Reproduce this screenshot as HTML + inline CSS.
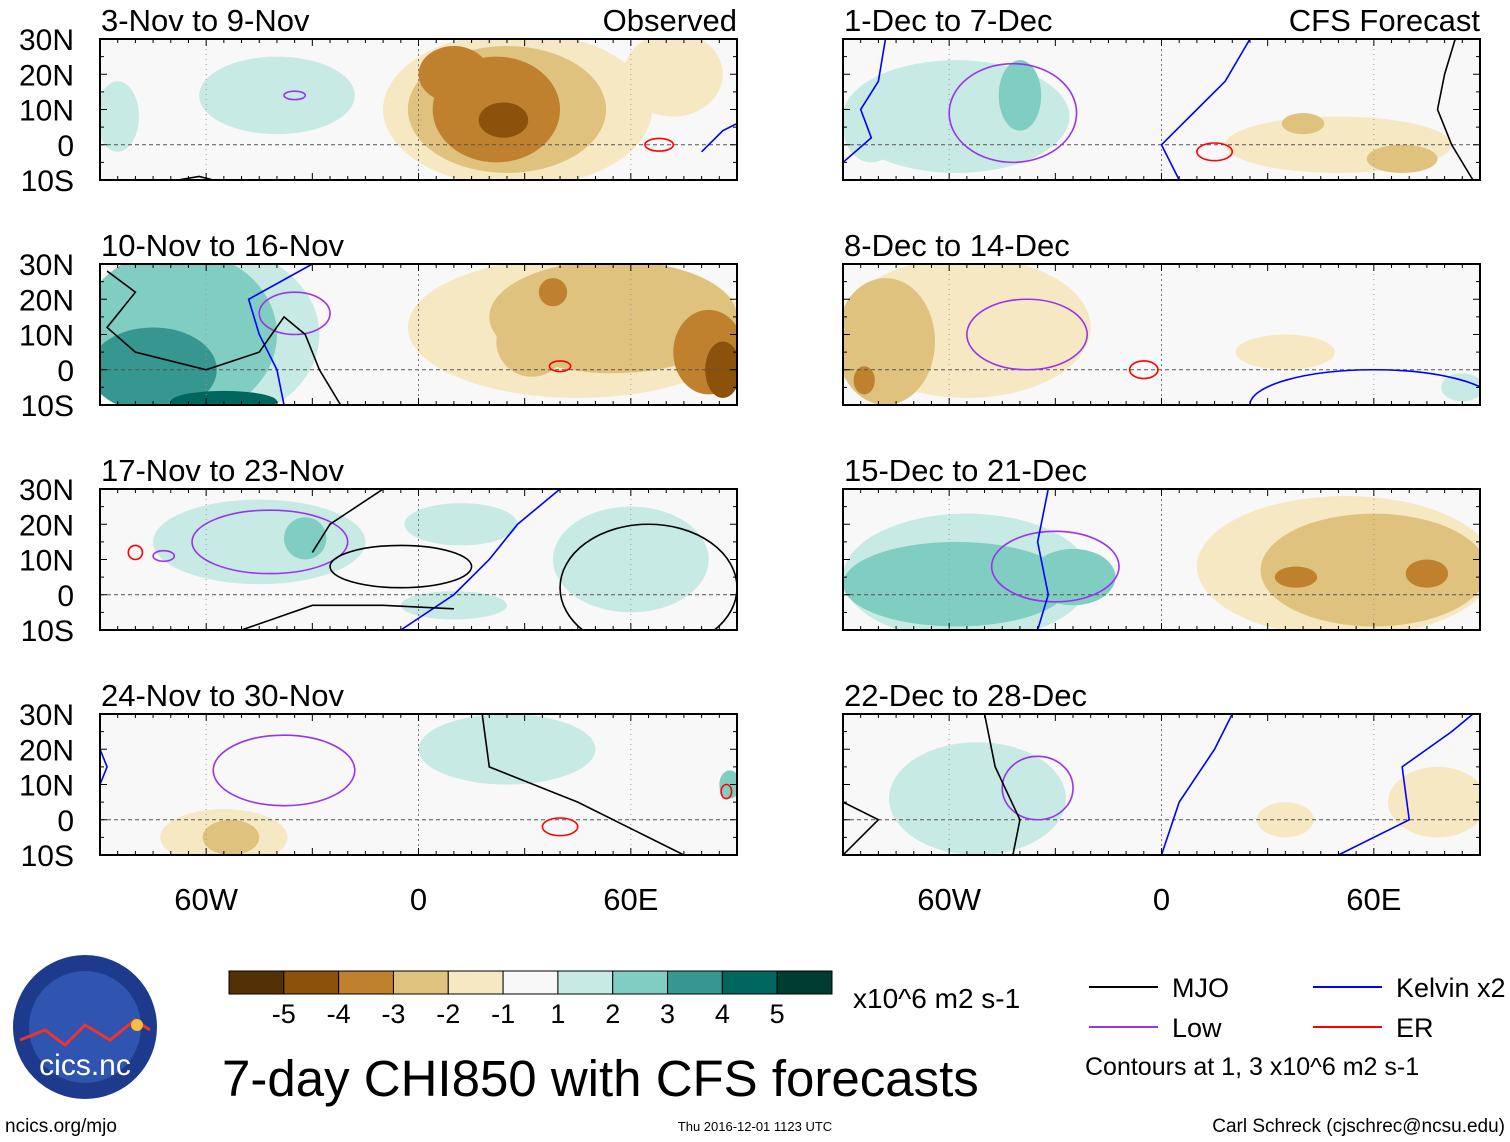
<!DOCTYPE html>
<html><head><meta charset="utf-8"><style>
body{margin:0;background:#fff;width:1510px;height:1142px;overflow:hidden;font-family:"Liberation Sans",Arial,sans-serif}
svg{display:block}
</style></head><body>
<svg id="chart" width="1510" height="1142" viewBox="0 0 1510 1142" xmlns="http://www.w3.org/2000/svg" font-family="Liberation Sans, Arial, sans-serif"></svg>
<script>
// ---- data ----
const panelTitles = ["3-Nov to 9-Nov","1-Dec to 7-Dec","10-Nov to 16-Nov","8-Dec to 14-Dec","17-Nov to 23-Nov","15-Dec to 21-Dec","24-Nov to 30-Nov","22-Dec to 28-Dec"];
const panelTags = ["Observed","CFS Forecast","","","","","",""];
const latTicks = [30,20,10,0,-10];
const latLabels = ["30N","20N","10N","0","10S"];
const lonTicks = [-60,0,60];
const lonLabels = ["60W","0","60E"];
const levels = [-6,-5,-4,-3,-2,-1,1,2,3,4,5];
const levelLabels = ["-5","-4","-3","-2","-1","1","2","3","4","5"];
const palette = ["#543005","#8c510a","#bf812d","#dfc27d","#f6e8c3","#f8f8f8","#c7eae5","#80cdc1","#35978f","#01665e","#003c30"];
// anomaly blobs: [lon, lat, rxDeg, ryDeg, value]
const blobs = [
 [[-40,14,22,11,1.5],[-85,8,6,10,1.5],[28,10,38,22,-1.5],[72,20,14,12,-1.5],[25,10,28,18,-2.5],[22,10,18,15,-3.5],[24,7,7,5,-4.5],[10,20,10,8,-3.5]],
 [[-58,8,32,16,1.5],[-40,14,6,10,2.5],[-82,5,8,10,1.5],[50,0,32,8,-1.5],[68,-4,10,4,-2.5],[40,6,6,3,-2.5]],
 [[-62,10,34,26,1.5],[-68,10,28,24,2.5],[-75,0,18,12,3.5],[-55,-9,15,3,4.5],[45,12,48,20,-1.5],[55,15,35,16,-2.5],[32,8,10,10,-2.5],[82,5,10,12,-3.5],[86,0,5,8,-4.5],[38,22,4,4,-3.5]],
 [[-55,12,35,20,-1.5],[-78,8,14,18,-2.5],[-84,-3,3,4,-3.5],[35,5,14,5,-1.5],[85,-5,6,4,1.5]],
 [[-45,15,30,12,1.5],[-32,16,6,6,2.5],[60,10,22,15,1.5],[12,20,16,6,1.5],[10,-3,15,4,1.5]],
 [[-55,5,35,18,1.5],[-58,3,32,12,2.5],[-25,5,12,8,2.5],[52,8,42,20,-1.5],[60,7,32,16,-2.5],[38,5,6,3,-3.5],[75,6,6,4,-3.5]],
 [[-55,-5,18,8,-1.5],[-53,-5,8,5,-2.5],[25,20,25,10,1.5],[88,10,3,4,2.5]],
 [[-52,6,25,16,1.5],[78,5,14,10,-1.5],[35,0,8,5,-1.5]]
];
const contourColors = {mjo:"#000000",low:"#9933ee",kelvin:"#0000ff",er:"#ff0000"};
// ellipse contours: [type, lon, lat, rxDeg, ryDeg]
const ellipseContours = [
 [["low",-35,14,3,1.2],["er",68,0,4,1.8]],
 [["low",-42,9,18,14],["er",15,-2,5,2.5]],
 [["low",-35,16,10,6],["er",40,1,3,1.5]],
 [["low",-38,10,17,10],["er",-5,0,4,2.5],["kelvin",60,-10,35,10]],
 [["low",-42,15,22,9],["mjo",-5,8,20,6],["er",-80,12,2,2],["low",-72,11,3,1.5],["mjo",65,2,25,18]],
 [["low",-30,8,18,10]],
 [["low",-38,14,20,10],["er",40,-2,5,2.5],["er",87,8,1.5,2]],
 [["low",-35,9,10,9]]
];
// polyline contours [type, [[lon,lat],...]]
const lineContours = [
 [["kelvin",[[80,-2],[86,4],[90,6]]],["mjo",[[-68,-10],[-62,-9],[-58,-10]]]],
 [["kelvin",[[-90,-5],[-82,2],[-85,10],[-80,18],[-78,30]]],["kelvin",[[5,-10],[0,0],[10,10],[18,18],[25,30]]],["mjo",[[83,30],[80,20],[78,10],[82,0],[88,-10]]]],
 [["kelvin",[[-38,-10],[-40,0],[-45,10],[-48,20],[-30,30]]],["mjo",[[-88,28],[-80,22],[-88,12],[-80,5],[-60,0],[-45,5],[-38,15],[-32,10],[-28,0],[-22,-10]]]],
 [],
 [["kelvin",[[-5,-10],[10,0],[20,10],[28,20],[40,30]]],["mjo",[[-50,-10],[-30,-3],[-10,-3],[10,-4]]],["mjo",[[-10,30],[-25,20],[-30,12]]]],
 [["kelvin",[[-35,-10],[-32,0],[-35,15],[-32,30]]]],
 [["mjo",[[18,30],[20,15],[45,5],[65,-5],[75,-10]]],["kelvin",[[-90,20],[-88,15],[-90,10]]]],
 [["mjo",[[-50,30],[-47,15],[-40,0],[-42,-10]]],["kelvin",[[0,-10],[5,5],[15,20],[20,30]]],["kelvin",[[50,-10],[70,0],[68,15],[82,25],[88,30]]],["mjo",[[-90,-10],[-80,0],[-90,5]]]]
];
// ---- drawing ----
const svg=document.getElementById('chart');
const NS="http://www.w3.org/2000/svg";
function mk(tag,attrs,parent){const e=document.createElementNS(NS,tag);for(const k in attrs)e.setAttribute(k,attrs[k]);(parent||svg).appendChild(e);return e;}
const colX=[100,843], rowY=[39,264,489,714], PW=637, PH=141;
function colorFor(v){for(let i=levels.length-1;i>=0;i--){if(v>=levels[i])return palette[i];}return palette[0];}
for(let p=0;p<8;p++){
 const x0=colX[p%2], y0=rowY[Math.floor(p/2)];
 const xs=lon=>x0+(lon+90)/180*PW;
 const ys=lat=>y0+(30-lat)/40*PH;
 const g=mk('g',{});
 
 
 const cid='clip'+p;
 const cp=mk('clipPath',{id:cid},g); mk('rect',{x:x0,y:y0,width:PW,height:PH},cp);
 mk('rect',{x:x0,y:y0,width:PW,height:PH,fill:"#f8f8f8"},g);
 const sg=mk('g',{'clip-path':'url(#'+cid+')'},g);
 const bl=blobs[p].slice().sort((a,b)=>Math.abs(a[4])-Math.abs(b[4]));
 bl.forEach(b=>{const e=mk('ellipse',{cx:xs(b[0]),cy:ys(b[1]),rx:b[2]/180*PW,ry:b[3]/40*PH,fill:colorFor(b[4])},sg);
   
   });
 mk('line',{x1:x0,x2:x0+PW,y1:ys(0),y2:ys(0),stroke:"#555",'stroke-dasharray':"4,3"},sg);
 mk('line',{x1:xs(0),x2:xs(0),y1:y0,y2:y0+PH,stroke:"#777",'stroke-dasharray':"2,3"},sg);
 [-60,60].forEach(l=>mk('line',{x1:xs(l),x2:xs(l),y1:y0,y2:y0+PH,stroke:"#999",'stroke-dasharray':"1,4"},sg));
 ellipseContours[p].forEach(c=>{const e=mk('ellipse',{cx:xs(c[1]),cy:ys(c[2]),rx:c[3]/180*PW,ry:c[4]/40*PH,fill:"none",stroke:contourColors[c[0]],'stroke-width':1.6},sg);
   
   });
 lineContours[p].forEach(c=>{const pts=c[1].map(q=>xs(q[0])+","+ys(q[1])).join(" ");
   const e=mk('polyline',{points:pts,fill:"none",stroke:contourColors[c[0]],'stroke-width':1.6},sg);
   
   });
 mk('rect',{x:x0,y:y0,width:PW,height:PH,fill:"none",stroke:"#000",'stroke-width':2},g);
 for(let l=-90;l<=90;l+=5){const len=(l%30===0)?7:4;mk('line',{x1:xs(l),x2:xs(l),y1:y0,y2:y0+len,stroke:"#000"},g);mk('line',{x1:xs(l),x2:xs(l),y1:y0+PH,y2:y0+PH-len,stroke:"#000"},g);}
 for(let l=-10;l<=30;l+=5){const len=(l%10===0)?7:4;mk('line',{x1:x0,x2:x0+len,y1:ys(l),y2:ys(l),stroke:"#000"},g);mk('line',{x1:x0+PW,x2:x0+PW-len,y1:ys(l),y2:ys(l),stroke:"#000"},g);}
 const t=mk('text',{x:x0+1,y:y0-8,'font-size':31},g);t.textContent=panelTitles[p];
 
 
 if(panelTags[p]){const t2=mk('text',{x:x0+PW,y:y0-8,'font-size':31,'text-anchor':'end'},g);t2.textContent=panelTags[p];
   
   }
 if(p%2===0){latTicks.forEach((l,i)=>{const tt=mk('text',{x:74,y:ys(l)+11,'font-size':30,'text-anchor':'end'},g);tt.textContent=latLabels[i];
   
   });}
 if(p>=6){lonTicks.forEach((l,i)=>{const tt=mk('text',{x:xs(l),y:910,'font-size':31,'text-anchor':'middle'},g);tt.textContent=lonLabels[i];
   
   });}
}
// colorbar
const cb=mk('g',{});


const cw=(832-229)/palette.length;
palette.forEach((c,i)=>mk('rect',{x:229+i*cw,y:971,width:cw,height:23,fill:c,stroke:"#000",'stroke-width':1},cb));
levelLabels.forEach((l,i)=>{const t=mk('text',{x:229+(i+1)*cw,y:1023,'font-size':27,'text-anchor':'middle'},cb);t.textContent=l;});
const un=mk('text',{x:853,y:1008,'font-size':28},cb);un.textContent="x10^6 m2 s-1";
// legend
const lg=mk('g',{});


[["mjo","MJO",1089,987],["kelvin","Kelvin x2",1313,987],["low","Low",1089,1027],["er","ER",1313,1027]].forEach(a=>{
 mk('line',{x1:a[2],x2:a[2]+69,y1:a[3],y2:a[3],stroke:contourColors[a[0]],'stroke-width':2},lg);
 const t=mk('text',{x:a[2]+83,y:a[3]+10,'font-size':27},lg);t.textContent=a[1];});
const ct=mk('text',{x:1085,y:1075,'font-size':25},lg);ct.textContent="Contours at 1, 3 x10^6 m2 s-1";
const ti=mk('text',{x:222,y:1096,'font-size':51});ti.textContent="7-day CHI850 with CFS forecasts";


const f1=mk('text',{x:5,y:1132,'font-size':19});f1.textContent="ncics.org/mjo";


const f2=mk('text',{x:755,y:1131,'font-size':13,'text-anchor':'middle'});f2.textContent="Thu 2016-12-01 1123 UTC";


const f3=mk('text',{x:1505,y:1132,'font-size':19,'text-anchor':'end'});f3.textContent="Carl Schreck (cjschrec@ncsu.edu)";


// logo
const lo=mk('g',{});


mk('circle',{cx:85,cy:1027,r:72,fill:"#1d3a8c"},lo);
mk('circle',{cx:85,cy:1027,r:56,fill:"#2f55b0"},lo);
mk('polyline',{points:"20,1040 45,1030 65,1045 85,1025 110,1040 135,1020 150,1030",fill:"none",stroke:"#e33",'stroke-width':3},lo);
mk('circle',{cx:137,cy:1025,r:6,fill:"#f5c040"},lo);
const lt=mk('text',{x:85,y:1075,'font-size':30,fill:"#fff",'text-anchor':'middle'},lo);lt.textContent="cics.nc";
</script>
</body></html>
